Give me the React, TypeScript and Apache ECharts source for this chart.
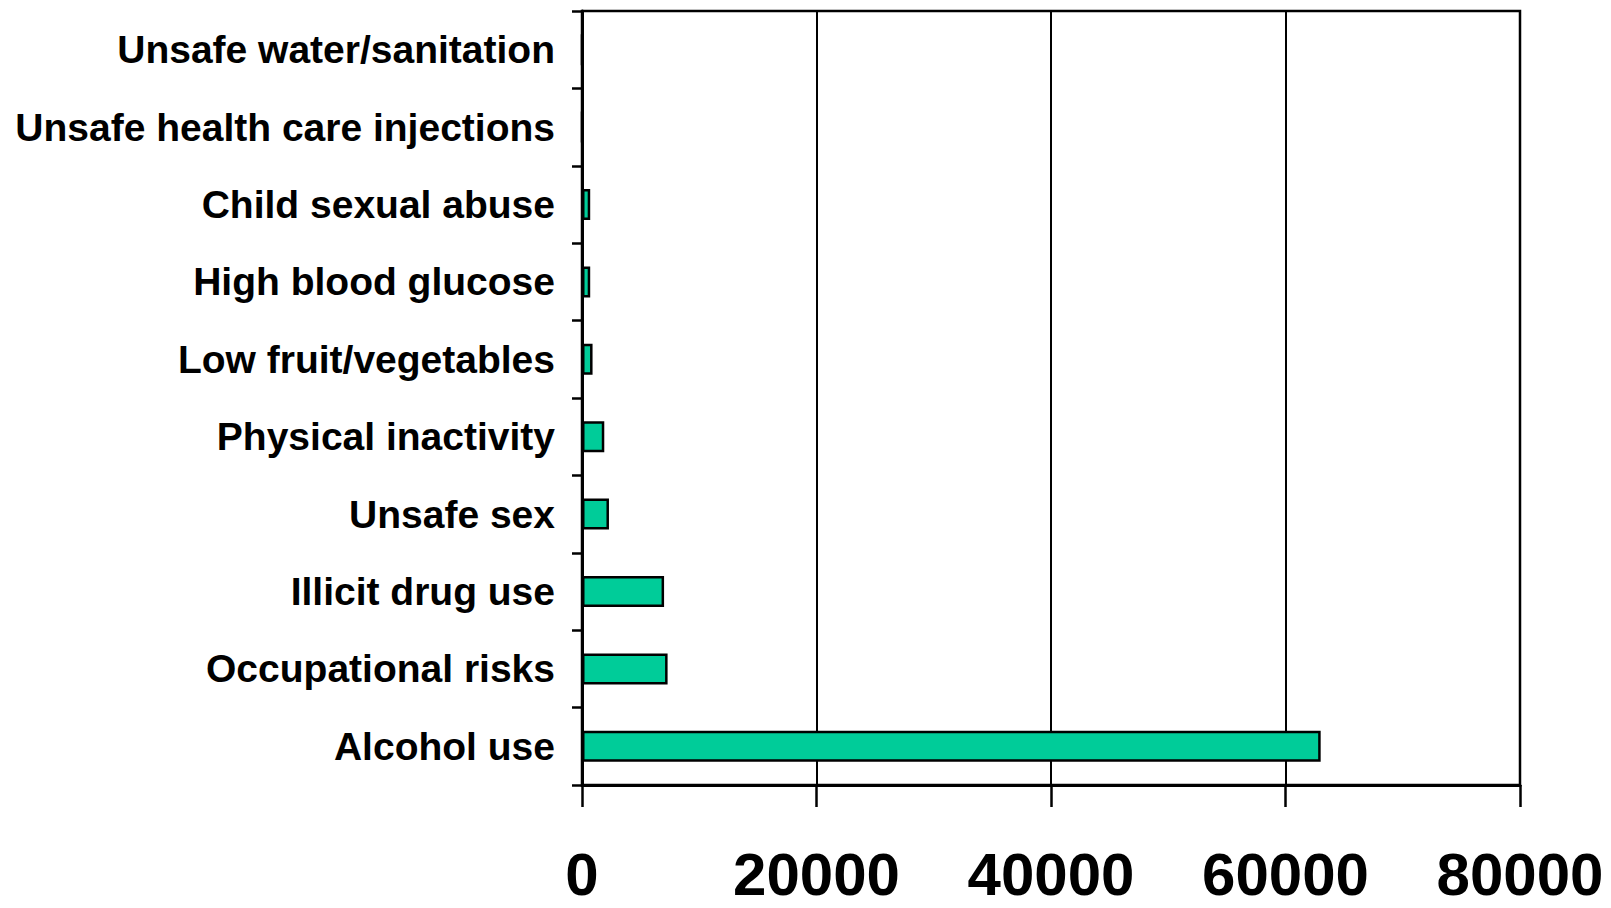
import React, { useEffect, useRef } from "react";
import * as echarts from "echarts";

const categories = [
  "Alcohol use",
  "Occupational risks",
  "Illicit drug use",
  "Unsafe sex",
  "Physical inactivity",
  "Low fruit/vegetables",
  "High blood glucose",
  "Child sexual abuse",
  "Unsafe health care injections",
  "Unsafe water/sanitation",
];
const values = [63000, 7300, 7000, 2300, 1900, 900, 700, 700, 0, 0];
const xMin = 0;
const xMax = 80000;
const xInterval = 20000;

export default function App() {
  const ref = useRef<HTMLDivElement>(null);
  useEffect(() => {
    if (!ref.current) return;
    const chart = echarts.init(ref.current, null, { renderer: "svg" });
    const font = "'Liberation Sans', Arial, Helvetica, sans-serif";
    chart.setOption({
      animation: false,
      backgroundColor: "#ffffff",
      grid: {
        left: 582,
        right: 91,
        top: 11,
        bottom: 123,
        show: true,
        borderColor: "#000",
        borderWidth: 2.5,
        containLabel: false,
      },
      xAxis: {
        type: "value",
        min: xMin,
        max: xMax,
        interval: xInterval,
        axisLine: { show: true, lineStyle: { color: "#000", width: 3 } },
        axisTick: { show: true, length: 22, lineStyle: { color: "#000", width: 2.5 } },
        splitLine: { show: true, lineStyle: { color: "#000", width: 2 } },
        axisLabel: {
          color: "#000",
          fontSize: 60,
          fontWeight: "bold",
          fontFamily: font,
          margin: 59,
          formatter: (v: number) => String(v),
        },
      },
      yAxis: {
        type: "category",
        data: categories,
        axisLine: { show: true, lineStyle: { color: "#000", width: 3 } },
        axisTick: { show: true, length: 10, alignWithLabel: false, lineStyle: { color: "#000", width: 2.5 } },
        splitLine: { show: false },
        axisLabel: {
          color: "#000",
          fontSize: 39,
          fontWeight: "bold",
          fontFamily: font,
          margin: 27,
        },
      },
      series: [
        {
          type: "bar",
          data: values,
          barCategoryGap: "60%",
          itemStyle: { color: "#00CC99", borderColor: "#000", borderWidth: 2.5 },
        },
      ],
    });
    return () => chart.dispose();
  }, []);
  return (
    <div
      ref={ref}
      style={{ position: "absolute", left: 0, top: 0, width: 1611, height: 908 }}
    />
  );
}
